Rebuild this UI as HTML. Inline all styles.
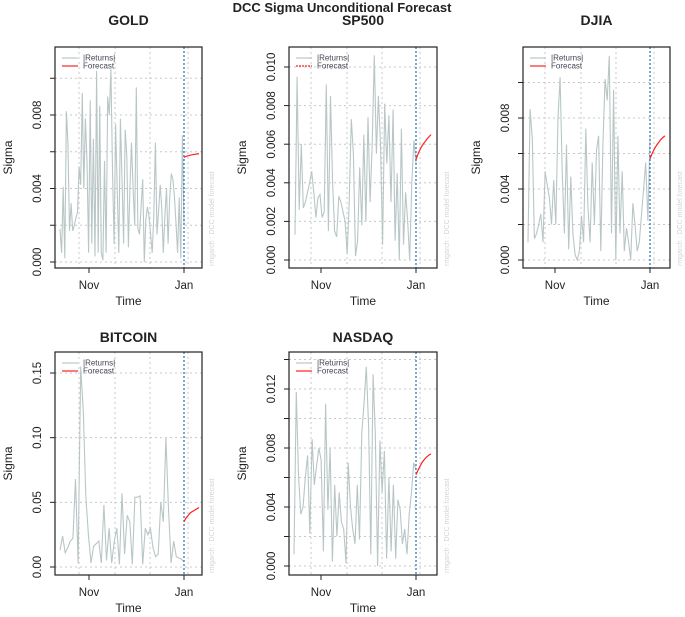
<!DOCTYPE html>
<html><head><meta charset="utf-8"><style>
html,body{margin:0;padding:0;background:#fff;}
svg{display:block;font-family:"Liberation Sans",Arial,sans-serif;}
</style></head><body>
<svg id="chart" width="685" height="617" viewBox="0 0 685 617" xmlns="http://www.w3.org/2000/svg">
<rect width="685" height="617" fill="#fff"/>
<text x="342" y="12" text-anchor="middle" font-size="13" font-weight="bold" fill="#222">DCC Sigma Unconditional Forecast</text>
</svg>
<script>
const goldReturns=[1.8,0.5,4.1,0.2,8.2,6.5,1.7,3.2,1.7,2.0,2.4,2.7,5.2,4.2,9.2,4.0,7.8,5.5,0.5,8.8,1.0,6.7,0.3,10.4,0.5,8.5,0.5,0.1,5.5,0.5,9.0,8.0,10.5,5.0,1.0,7.5,4.0,0.5,7.8,4.5,1.0,7.2,5.8,0.8,4.0,6.5,4.0,2.0,9.5,1.8,1.5,3.0,4.5,0.0,2.3,3.0,2.5,1.5,0.5,2.5,6.5,1.5,2.8,4.2,3.0,0.5,2.5,4.0,1.0,3.5,4.8,4.5,3.5,2.0,0.5,3.5,0.2,6.9,2.0];
const goldForecast=[5.7,5.75,5.78,5.81,5.84,5.86,5.88,5.9];
const sp500Returns=[1.3,9.5,2.6,6.0,2.7,3.0,3.5,4.0,4.6,3.5,2.2,3.2,3.4,2.2,2.5,9.1,1.5,8.5,4.0,1.5,1.2,3.3,3.0,2.5,2.0,0.3,3.0,7.3,5.5,0.2,1.0,4.8,1.8,6.5,2.0,7.4,3.0,6.0,10.6,5.5,8.5,6.0,0.8,8.1,5.0,7.5,3.0,7.8,1.0,4.5,0.0,6.8,0.8,3.5,2.0,0.0,4.0,6.2,5.0];
const sp500Forecast=[5.2,5.5,5.75,5.95,6.1,6.25,6.38,6.5];
const djiaReturns=[1.0,8.5,6.8,1.2,1.5,2.0,2.6,1.0,5.0,4.2,3.5,2.0,4.5,2.0,8.0,10.3,5.0,1.5,6.5,0.6,4.7,1.5,0.3,0.0,0.5,2.5,1.0,7.4,3.0,1.0,5.5,2.0,6.2,7.0,0.5,6.5,10.2,9.0,11.5,1.5,9.6,0.0,7.0,1.5,5.0,0.5,1.8,1.0,0.0,3.2,2.0,0.5,1.0,2.5,4.0,5.5,2.2,6.9];
const djiaForecast=[5.7,6.0,6.25,6.45,6.62,6.78,6.9,7.0];
const bitcoinReturns=[0.013,0.024,0.011,0.015,0.02,0.022,0.068,0.003,0.155,0.12,0.055,0.025,0.003,0.016,0.018,0.02,0.003,0.048,0.005,0.03,0.003,0.02,0.03,0.002,0.057,0.01,0.04,0.035,0.002,0.054,0.054,0.055,0.002,0.03,0.025,0.03,0.015,0.008,0.01,0.05,0.035,0.1,0.045,0.003,0.02,0.008,0.007,0.006,0.004];
const bitcoinForecast=[0.035,0.038,0.04,0.042,0.043,0.044,0.045,0.046];
const nasdaqReturns=[0.8,11.8,6.2,3.5,4.0,6.0,7.5,2.2,8.6,5.5,6.8,8.0,7.2,1.0,11.0,3.8,8.0,0.3,5.5,2.0,5.0,3.0,2.5,0.2,7.0,4.0,2.5,1.5,5.5,1.8,9.0,11.0,13.5,9.5,0.8,13.0,9.0,0.0,8.5,5.0,7.8,0.5,6.0,1.0,5.5,0.5,4.5,3.8,1.5,2.5,0.8,3.5,5.0,7.0,6.5];
const nasdaqForecast=[6.2,6.5,6.8,7.05,7.25,7.4,7.52,7.6];
const goldTicks=[0,2,4,6,8,10];
const goldTickLabels=["0.000","","0.004","","0.008",""];
const sp500Ticks=[0,2,4,6,8,10];
const sp500TickLabels=["0.000","0.002","0.004","0.006","0.008","0.010"];
const djiaTicks=[0,2,4,6,8,10];
const djiaTickLabels=["0.000","","0.004","","0.008",""];
const bitcoinTicks=[0,0.05,0.10,0.15];
const bitcoinTickLabels=["0.00","0.05","0.10","0.15"];
const nasdaqTicks=[0,2,4,6,8,10,12,14];
const nasdaqTickLabels=["0.000","","0.004","","0.008","","0.012",""];
const xTickLabels=["Nov","Jan"];

const NS="http://www.w3.org/2000/svg";
const svg=document.getElementById('chart');
function mk(tag,attrs,parent){const e=document.createElementNS(NS,tag);for(const k in attrs)e.setAttribute(k,attrs[k]);(parent||svg).appendChild(e);return e;}

function panel(p){
  const g=mk('g',{});
  
  
  const yS=v=>p.zeroY+(p.refY-p.zeroY)*v/p.refV;
  const n=p.ret.length;
  const xS=i=>p.startX+(p.janX-p.startX)*i/(n-1);
  const fx=i=>p.janX+15*i/(p.fc.length-1);
  p.ticks.forEach(v=>{const l=mk('line',{x1:p.x0,x2:p.x1,y1:yS(v),y2:yS(v),stroke:'#c8c8c8','stroke-width':1,'stroke-dasharray':'2,3'},g);});
  [-105,-69,-34,4].forEach(o=>{const l=mk('line',{x1:p.janX+o,x2:p.janX+o,y1:p.y0,y2:p.y1,stroke:'#c8c8c8','stroke-width':1,'stroke-dasharray':'2,3'},g);});
  const rl=mk('polyline',{points:p.ret.map((v,i)=>xS(i).toFixed(1)+','+yS(v).toFixed(1)).join(' '),fill:'none',stroke:'#b9c6c6','stroke-width':1.1},g);
  
  const jl=mk('line',{x1:p.janX,x2:p.janX,y1:p.y0,y2:p.y1,stroke:'#1f6fc0','stroke-width':1.2,'stroke-dasharray':'2,2'},g);
  
  const fl=mk('polyline',{points:p.fc.map((v,i)=>fx(i).toFixed(1)+','+yS(v).toFixed(1)).join(' '),fill:'none',stroke:'#ff2020','stroke-width':1.2},g);
  
  const b=mk('rect',{x:p.x0,y:p.y0,width:p.x1-p.x0,height:p.y1-p.y0,fill:'none',stroke:'#222','stroke-width':1.2},g);
  
  p.ticks.forEach((v,i)=>{
    mk('line',{x1:p.x0-5,x2:p.x0,y1:yS(v),y2:yS(v),stroke:'#222'},g);
    if(p.labels[i]){const t=mk('text',{x:0,y:0,transform:`translate(${p.x0-14},${yS(v)}) rotate(-90)`,'text-anchor':'middle','font-size':11.5,fill:'#222'},g);t.textContent=p.labels[i];}
  });
  [[p.janX-95,xTickLabels[0]],[p.janX,xTickLabels[1]]].forEach(([x,s])=>{
    mk('line',{x1:x,x2:x,y1:p.y1,y2:p.y1+5,stroke:'#222'},g);
    const t=mk('text',{x:x,y:p.y1+21,'text-anchor':'middle','font-size':11.5,fill:'#222'},g);t.textContent=s;
    
  });
  const tt=mk('text',{x:(p.x0+p.x1)/2,y:p.y1+37,'text-anchor':'middle','font-size':12,fill:'#222'},g);tt.textContent='Time';
  
  const sg=mk('text',{transform:`translate(${p.x0-43},${(p.y0+p.y1)/2}) rotate(-90)`,'text-anchor':'middle','font-size':12,fill:'#222'},g);sg.textContent='Sigma';
  
  const ti=mk('text',{x:(p.x0+p.x1)/2,y:p.titleY,'text-anchor':'middle','font-size':14,'font-weight':'bold',fill:'#222'},g);ti.textContent=p.title;
  
  const rt=mk('text',{transform:`translate(${p.x1+12},${p.y1-2}) rotate(-90)`,'font-size':7,fill:'#d4d4d4'},g);rt.textContent='rmgarch  :  DCC model forecast';
  
  const lg=mk('g',{},g);
  mk('line',{x1:p.x0+7,x2:p.x0+23,y1:p.y0+11,y2:p.y0+11,stroke:'#b9c6c6','stroke-width':1.2},lg);
  mk('line',{x1:p.x0+7,x2:p.x0+23,y1:p.y0+19,y2:p.y0+19,stroke:'#ff2020','stroke-width':1.2,'stroke-dasharray':p.dash?'2,1':'none'},lg);
  const a=mk('text',{x:p.x0+28,y:p.y0+13.5,'font-size':8,fill:'#445'},lg);a.textContent='|Returns|';
  
  const c=mk('text',{x:p.x0+28,y:p.y0+21.5,'font-size':8,fill:'#445'},lg);c.textContent='Forecast';
  
}
panel({key:'gold',title:'GOLD',titleY:25,x0:55,x1:202,y0:47,y1:268,janX:184,startX:60,zeroY:262,refY:115,refV:8,ret:goldReturns,fc:goldForecast,ticks:goldTicks,labels:goldTickLabels});
panel({key:'sp500',title:'SP500',titleY:25,x0:289,x1:437,y0:47,y1:268,janX:416,startX:295,zeroY:260,refY:67,refV:10,ret:sp500Returns,fc:sp500Forecast,ticks:sp500Ticks,labels:sp500TickLabels,dash:true});
panel({key:'djia',title:'DJIA',titleY:25,x0:523,x1:670,y0:47,y1:268,janX:650,startX:528,zeroY:260,refY:118,refV:8,ret:djiaReturns,fc:djiaForecast,ticks:djiaTicks,labels:djiaTickLabels});
panel({key:'bitcoin',title:'BITCOIN',titleY:342,x0:55,x1:202,y0:352,y1:575,janX:184,startX:60,zeroY:567,refY:373,refV:0.15,ret:bitcoinReturns,fc:bitcoinForecast,ticks:bitcoinTicks,labels:bitcoinTickLabels});
panel({key:'nasdaq',title:'NASDAQ',titleY:342,x0:289,x1:437,y0:352,y1:575,janX:416,startX:294,zeroY:566,refY:389,refV:12,ret:nasdaqReturns,fc:nasdaqForecast,ticks:nasdaqTicks,labels:nasdaqTickLabels});
</script>
</body></html>
